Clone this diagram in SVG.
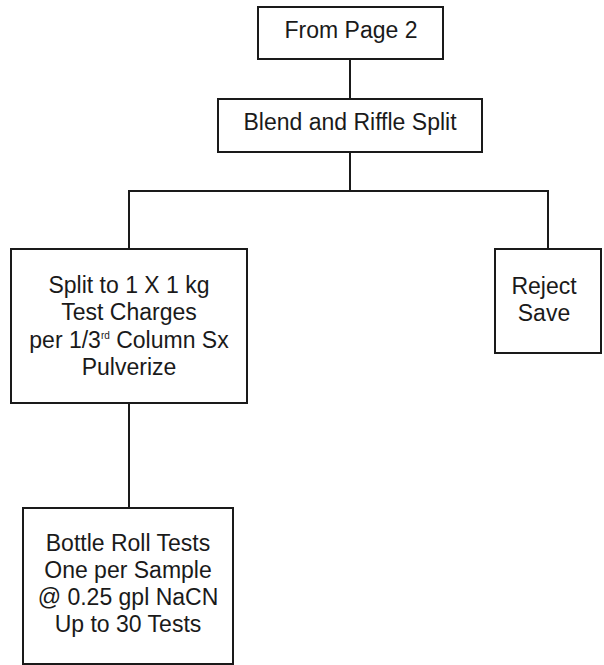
<svg xmlns="http://www.w3.org/2000/svg" width="604" height="665" viewBox="0 0 604 665">
<style>
.box{fill:#fff;stroke:#1a1a1a;stroke-width:2}
.ln{fill:none;stroke:#1a1a1a;stroke-width:2}
text{font-family:"Liberation Sans",Arial,sans-serif;font-size:23px;fill:#1a1a1a;text-anchor:middle}
.sup{font-size:10px}
</style>
<rect width="604" height="665" fill="#fff"/>
<g id="connectors">
<line class="ln" x1="350" y1="59" x2="350" y2="99"/>
<polyline class="ln" points="350,152 350,191 129,191 129,249"/>
<polyline class="ln" points="350,191 548,191 548,249"/>
<line class="ln" x1="129" y1="403" x2="129" y2="508"/>
</g>
<g id="from-page-2">
<rect class="box" x="258" y="7" width="185" height="52"/>
<text x="351" y="38">From Page 2</text>
</g>
<g id="blend-riffle">
<rect class="box" x="218" y="99" width="264" height="53"/>
<text x="350" y="130">Blend and Riffle Split</text>
</g>
<g id="split-charges">
<rect class="box" x="11" y="249" width="236" height="154"/>
<text x="129" y="293">Split to 1 X 1 kg</text>
<text x="129" y="320">Test Charges</text>
<text x="129" y="348">per 1/3<tspan class="sup" dy="-9">rd</tspan><tspan dy="9"> Column Sx</tspan></text>
<text x="129" y="375">Pulverize</text>
</g>
<g id="reject-save">
<rect class="box" x="495" y="249" width="106" height="104"/>
<text x="544" y="294">Reject</text>
<text x="544" y="321">Save</text>
</g>
<g id="bottle-roll">
<rect class="box" x="23" y="508" width="210" height="156"/>
<text x="128" y="551">Bottle Roll Tests</text>
<text x="128" y="578">One per Sample</text>
<text x="128" y="605">@ 0.25 gpl NaCN</text>
<text x="128" y="632">Up to 30 Tests</text>
</g>
</svg>
